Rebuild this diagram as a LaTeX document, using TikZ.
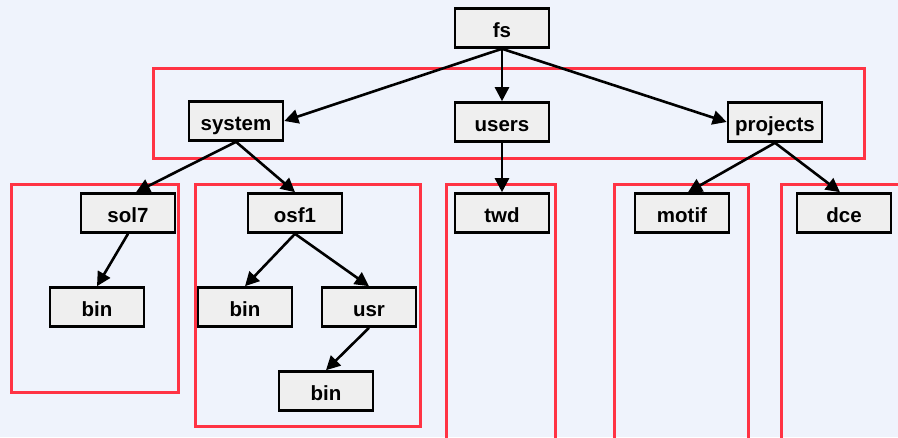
\documentclass[tikz,border=0pt]{standalone}
\usepackage{fontspec}
\setmainfont{Liberation Sans}
\usetikzlibrary{arrows.meta}
\definecolor{bgc}{HTML}{EFF3FC}
\definecolor{grp}{HTML}{FF3344}
\definecolor{boxfill}{HTML}{EFEFEF}
\tikzset{
  dirbox/.style={draw=black, line width=2.6pt, fill=boxfill, minimum width=94pt,
    minimum height=39pt, inner sep=0pt, text height=20pt, text depth=2pt,
    font=\fontsize{20.5}{24}\selectfont\bfseries},
  grpbox/.style={draw=grp, line width=3pt},
  link/.style={line width=2.6pt, -{Triangle[length=14pt,width=14pt]}}
}
\begin{document}
\begin{tikzpicture}[x=1pt,y=-1pt]
  \fill[bgc] (0,0) rectangle (898,437);
  \useasboundingbox (0,0) rectangle (898,437);
  \begin{scope}
    \clip (0,0) rectangle (898,437);
    % group frames
    \draw[grpbox] (153,68) rectangle (864,158);
    \draw[grpbox] (11,184) rectangle (178,392);
    \draw[grpbox] (195,184) rectangle (420,426);
    \draw[grpbox] (446,184) rectangle (555,450);
    \draw[grpbox] (614,184) rectangle (748,450);
    \draw[grpbox] (781,184) rectangle (920,450);
  \end{scope}
  % directories
  \node[dirbox] (fs) at (502,28) {fs};
  \node[dirbox] (system) at (236,121) {system};
  \node[dirbox] (users) at (502,122) {users};
  \node[dirbox] (projects) at (775,122) {projects};
  \node[dirbox] (sol7) at (128,213) {sol7};
  \node[dirbox] (osf1) at (295,213) {osf1};
  \node[dirbox] (twd) at (502,213) {twd};
  \node[dirbox] (motif) at (682,213) {motif};
  \node[dirbox] (dce) at (844,213) {dce};
  \node[dirbox] (solbin) at (97,307) {bin};
  \node[dirbox] (osfbin) at (245,307) {bin};
  \node[dirbox] (usr) at (369,307) {usr};
  \node[dirbox] (usrbin) at (326,391) {bin};
  % links
  \draw[link] (fs.south) -- (system.east);
  \draw[link] (fs.south) -- (users.north);
  \draw[link] (fs.south) -- (projects.west);
  \draw[link] (system.south) -- ([xshift=8pt]sol7.north);
  \draw[link] (system.south) -- (osf1.north);
  \draw[link] (users.south) -- (twd.north);
  \draw[link] (projects.south) -- ([xshift=6pt]motif.north);
  \draw[link] (projects.south) -- ([xshift=-4pt]dce.north);
  \draw[link] (sol7.south) -- (solbin.north);
  \draw[link] (osf1.south) -- (osfbin.north);
  \draw[link] (osf1.south) -- (usr.north);
  \draw[link] (usr.south) -- (usrbin.north);
\end{tikzpicture}
\end{document}
